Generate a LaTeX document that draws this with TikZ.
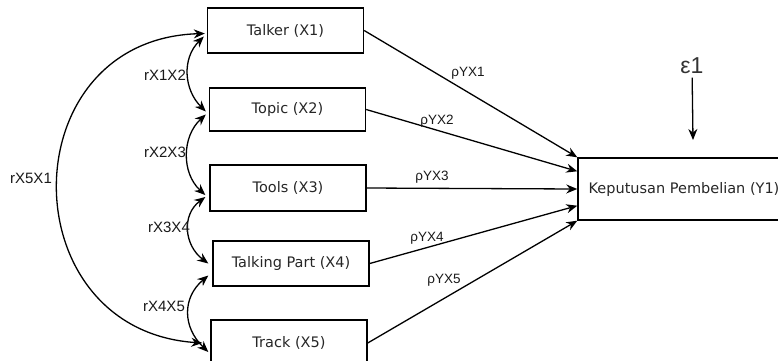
\documentclass[tikz,border=0pt]{standalone}
\usepackage{fontspec}
\setmainfont{DejaVu Sans}
\newfontfamily\labelfont{Liberation Sans}
\usetikzlibrary{arrows.meta, positioning}

\begin{document}
\begin{tikzpicture}[x=1pt, y=-1pt,
        kotak/.style={rectangle, draw, line width=1.4pt, minimum width=156pt, minimum height=45pt, align=center, text=black!85, font=\fontsize{14.5}{16}\selectfont},
        panah/.style={-{Stealth[length=11pt, width=9pt]}, line width=1.3pt},
        korel/.style={{Stealth[length=11pt, width=9pt]}-{Stealth[length=11pt, width=9pt]}, line width=1.3pt},
        lbl/.style={font=\labelfont\fontsize{15}{17}\selectfont, text=black!90},
        rho/.style={font=\labelfont\fontsize{13.5}{16}\selectfont, text=black!90}]
    \clip (0,0) rectangle (778,360);
    % variabel bebas
    \node[kotak] (x1) at (285.5,30.5) {Talker (X1)};
    \node[kotak, minimum height=43pt] (x2) at (287.5,109.5) {Topic (X2)};
    \node[kotak, minimum height=46pt] (x3) at (288,188) {Tools (X3)};
    \node[kotak] (x4) at (291,263.5) {Talking Part (X4)};
    \node[kotak, minimum height=46pt] (x5) at (289,343) {Track (X5)};
    % variabel terikat
    \node[kotak, minimum width=212pt, minimum height=62pt] (y) at (684,189) {Keputusan Pembelian (Y1)};
    \draw[panah] (x1.east) -- (y.north west);
    \draw[panah] (x2.east) -- ([yshift=-14pt]y.north west);
    \draw[panah] (x3.east) -- (y.west);
    \draw[panah] (x4.east) -- ([yshift=15pt]y.south west);
    \draw[panah] (x5.east) -- (y.south west);
    \node[rho] (p1) at (468,73) {ρYX1};
    \node[rho] (p2) at (437,121) {ρYX2};
    \node[rho] (p3) at (432,177) {ρYX3};
    \node[rho] (p4) at (427,238) {ρYX4};
    \node[rho] (p5) at (444,280) {ρYX5};
    % galat
    \node[font=\labelfont\fontsize{23}{25}\selectfont, text=black!80] (eps) at (692,66) {ε1};
    \coordinate (epsend) at (693,140);
    \draw[panah] (eps) -- (epsend);
    % korelasi antar X
    \draw[korel] ([xshift=-3pt,yshift=-6pt]x1.west) .. controls +(-22,22) and +(-22,-22) .. ([xshift=-3pt,yshift=-2pt]x2.west);
    \draw[korel] ([xshift=-3pt,yshift=-5pt]x2.west) .. controls +(-24,22) and +(-24,-22) .. ([xshift=-4pt,yshift=-7pt]x3.west);
    \draw[korel] ([xshift=-4pt,yshift=-9pt]x3.west) .. controls +(-24,18) and +(-24,-18) .. ([xshift=-4pt]x4.west);
    \draw[korel] ([xshift=-4pt,yshift=-12pt]x4.west) .. controls +(-26,22) and +(-26,-25) .. ([xshift=-2pt,yshift=-9pt]x5.west);
    \draw[korel] ([xshift=-2pt,yshift=-3pt]x1.west) .. controls +(-195,6) and +(-193,-13) .. ([xshift=-8pt]x5.west);
    \node[lbl] (r12) at (165,75) {rX1X2};
    \node[lbl] (r23) at (165,152) {rX2X3};
    \node[lbl] (r34) at (169,227) {rX3X4};
    \node[lbl] (r45) at (164,306) {rX4X5};
    \node[lbl] (r51) at (31,178) {rX5X1};
\end{tikzpicture}
\end{document}
